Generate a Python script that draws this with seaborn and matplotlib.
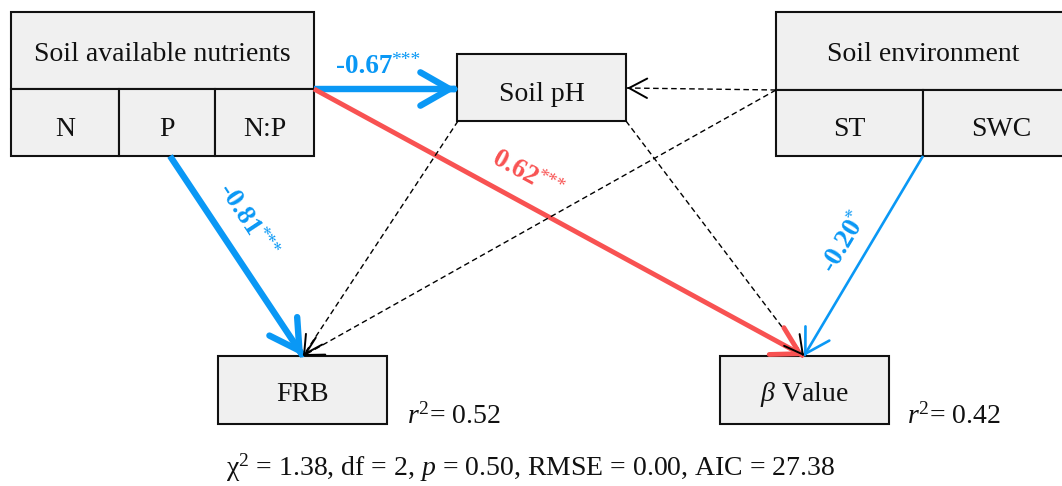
import numpy as np
import pandas as pd
import seaborn as sns
import matplotlib
matplotlib.use("Agg")
import matplotlib.pyplot as plt
from matplotlib.patches import Rectangle

sns.set_theme(style="white")
plt.rcParams['font.family'] = ['Liberation Serif', 'DejaVu Serif']
plt.rcParams['mathtext.fontset'] = 'custom'
plt.rcParams['mathtext.rm'] = 'Liberation Serif'
plt.rcParams['mathtext.it'] = 'Liberation Serif:italic'
plt.rcParams['mathtext.bf'] = 'Liberation Serif:bold'

# ---------------- data ----------------
node_names = ["Soil available nutrients", "N", "P", "N:P", "Soil pH",
              "Soil environment", "ST", "SWC", "FRB", r"$\beta$ Value"]
path_from = ["nutr", "nutr", "P", "SWC", "env", "env", "pH", "pH"]
path_to = ["pH", "beta", "FRB", "beta", "pH", "FRB", "FRB", "beta"]
path_coef = [-0.67, 0.62, -0.81, -0.20, np.nan, np.nan, np.nan, np.nan]
path_sig = ["***", "***", "***", "*", "", "", "", ""]
r2_targets = ["FRB", "beta"]
r2_values = [0.52, 0.42]
fit_chi2, fit_df, fit_p, fit_rmse, fit_aic = 1.38, 2, 0.50, 0.00, 27.38

# ---------------- layout (pixels) ----------------
W, H = 1062, 486
boxes = {
    "nutr_top": (11, 12, 314, 89), "N": (11, 89, 119, 156), "P": (119, 89, 215, 156),
    "NP": (215, 89, 314, 156), "pH": (457, 54, 626, 121),
    "env_top": (776, 12, 1071, 90), "ST": (776, 90, 923, 156), "SWC": (923, 90, 1071, 156),
    "FRB": (218, 356, 387, 424), "beta": (720, 356, 889, 424),
}
box_keys = ["nutr_top", "N", "P", "NP", "pH", "env_top", "ST", "SWC", "FRB", "beta"]
box_label = dict(zip(box_keys, node_names))
box_baseline = {"nutr_top": 61, "env_top": 61, "N": 136, "P": 136, "NP": 136,
                "ST": 136, "SWC": 136, "pH": 101, "FRB": 401, "beta": 401}
box_cx = {"SWC": 1001}

anchor_out = {"nutr": (314, 89), "P": (170, 156), "SWC": (923, 156), "env": (776, 90)}
anchor_out_pair = {("pH", "FRB"): (458, 121), ("pH", "beta"): (626, 121)}
anchor_in = {"pH": (456, 89), "beta": (804, 356), "FRB": (303, 356)}
anchor_in_pair = {("env", "pH"): (627, 88)}

BLUE = "#0A98F5"
RED = "#F85252"
FILL = "#F0F0F0"
INK = "#111111"

fig = plt.figure(figsize=(W / 100, H / 100), dpi=100)
ax = fig.add_axes([0, 0, 1, 1])
ax.set_xlim(0, W)
ax.set_ylim(H, 0)
ax.axis("off")
renderer = fig.canvas.get_renderer()

# boxes
for key in box_keys:
    x0, y0, x1, y1 = boxes[key]
    ax.add_patch(Rectangle((x0, y0), x1 - x0, y1 - y0, facecolor=FILL,
                           edgecolor=INK, lw=1.5, zorder=2))
    cx = box_cx.get(key, (x0 + x1) / 2)
    ax.text(cx, box_baseline[key], box_label[key], ha="center", va="baseline",
            fontsize=20, color=INK, zorder=3)


def style_for(coef):
    if np.isnan(coef):
        return dict(color="black", lw=1.0, ls=(0, (4, 2.5)), hl=13, hw=7)
    c = BLUE if coef < 0 else RED
    a = abs(coef)
    if a > 0.65:
        return dict(color=c, lw=4.6, ls="-", hl=21, hw=12)
    if a > 0.5:
        return dict(color=c, lw=3.5, ls="-", hl=19, hw=11)
    return dict(color=c, lw=1.9, ls="-", hl=17, hw=10)


# label start (left baseline) and rotation
label_pos = {("nutr", "pH"): (336, 73, 0), ("nutr", "beta"): (491, 163, -28.6),
             ("P", "FRB"): (218, 190, -56.6), ("SWC", "beta"): (833, 273, 59)}

for f, t, coef, sig in zip(path_from, path_to, path_coef, path_sig):
    p0 = np.array(anchor_out_pair.get((f, t), anchor_out.get(f)), dtype=float)
    p1 = np.array(anchor_in_pair.get((f, t), anchor_in.get(t)), dtype=float)
    st = style_for(coef)
    seg = pd.DataFrame({"x": [p0[0], p1[0]], "y": [p0[1], p1[1]]})
    sns.lineplot(data=seg, x="x", y="y", ax=ax, color=st["color"], lw=st["lw"],
                 linestyle=st["ls"], sort=False, estimator=None,
                 solid_capstyle="butt", dash_capstyle="butt", zorder=4)
    d = (p1 - p0) / np.linalg.norm(p1 - p0)
    ax.annotate("", xy=p1, xytext=p1 - d * 2,
                arrowprops=dict(arrowstyle=f"->,head_length={st['hl']/10},head_width={st['hw']/10}",
                                mutation_scale=10, color=st["color"],
                                lw=st["lw"] if st["ls"] == "-" else 1.4,
                                capstyle="round", joinstyle="round",
                                shrinkA=0, shrinkB=0), zorder=5)
    if not np.isnan(coef):
        x, y, rot = label_pos[(f, t)]
        t1 = ax.text(x, y, f"{coef:.2f}", ha="left", va="baseline", fontweight="bold",
                     color=st["color"], fontsize=19.5, zorder=6)
        wpx = t1.get_window_extent(renderer).width
        t1.set_rotation(rot)
        t1.set_rotation_mode("anchor")
        r = np.deg2rad(rot)
        along = np.array([np.cos(r), -np.sin(r)])
        up = np.array([-np.sin(r), -np.cos(r)])
        sp = np.array([x, y]) + along * (wpx - 1.5) + up * 8
        ax.text(sp[0], sp[1], sig, ha="left", va="baseline", rotation=rot,
                rotation_mode="anchor", color=st["color"], fontsize=14, zorder=6)

r2_pos = {"FRB": (407, 424), "beta": (907, 424)}
for t, v in zip(r2_targets, r2_values):
    x, y = r2_pos[t]
    ax.text(x, y, r"$r^2$" + f"= {v:.2f}", ha="left", va="baseline", fontsize=20, color=INK)

ax.text(531, 476, f"χ$^2$ = {fit_chi2:.2f}, df = {fit_df}, $p$ = {fit_p:.2f}, "
        f"RMSE = {fit_rmse:.2f}, AIC = {fit_aic:.2f}", ha="center", va="baseline",
        fontsize=20, color=INK)

fig.savefig("out.png", dpi=100, facecolor="white")
